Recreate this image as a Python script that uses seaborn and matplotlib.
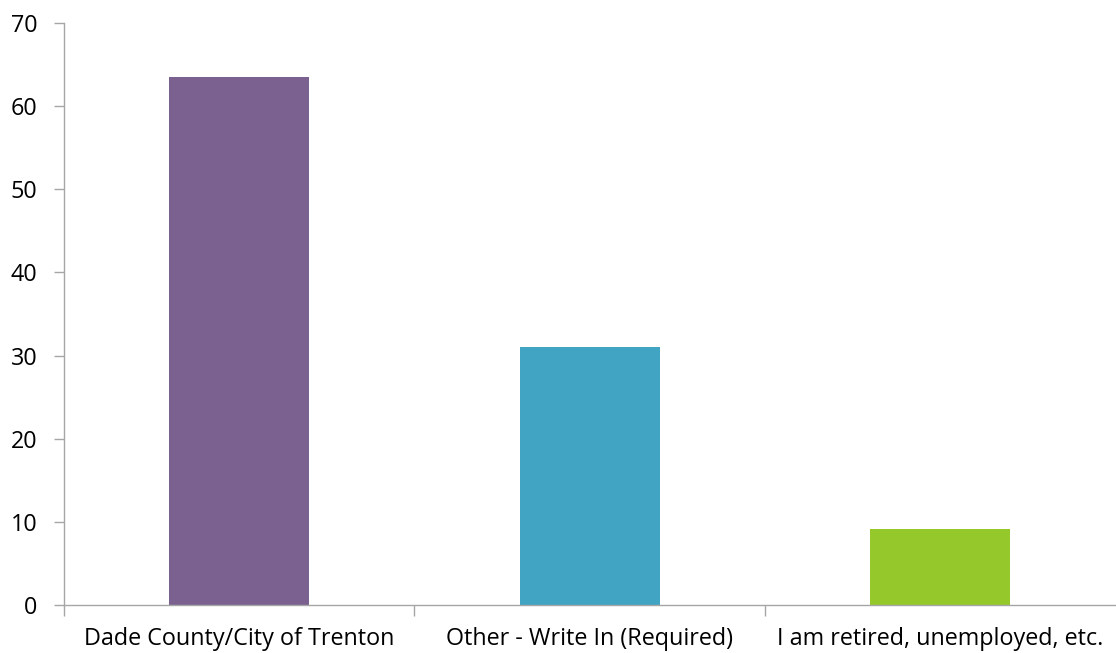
import matplotlib
matplotlib.use("Agg")
import matplotlib.pyplot as plt
import seaborn as sns
import pandas as pd
from matplotlib.ticker import FixedLocator

categories = ["Dade County/City of Trenton", "Other - Write In (Required)", "I am retired, unemployed, etc."]
values = [63.5, 31.0, 9.1]
colors = ["#7B6190", "#41A4C3", "#95C82B"]
yticks = [0, 10, 20, 30, 40, 50, 60, 70]

sns.set_theme(style="white")
plt.rcParams['font.family'] = ['Open Sans', 'DejaVu Sans']

df = pd.DataFrame({"cat": categories, "val": values})
fig = plt.figure(figsize=(11.16, 6.53), dpi=100)
ax = fig.add_axes([64/1116, 1-605/653, 1-64/1116 - 0.0005, (605-23)/653])
sns.barplot(data=df, x="cat", y="val", hue="cat", palette=colors, width=0.4,
            legend=False, ax=ax, saturation=1, linewidth=0)
ax.set_xlim(-0.5, 2.5)
ax.set_ylim(0, 70)
ax.set_yticks(yticks)
ax.set_xlabel("")
ax.set_ylabel("")
for s in ["top", "right"]:
    ax.spines[s].set_visible(False)
for s in ["left", "bottom"]:
    ax.spines[s].set_color("#A6A6A6")
    ax.spines[s].set_linewidth(1.0)
ax.tick_params(axis="y", which="major", length=7, color="#A6A6A6", width=1, labelsize=16.8, pad=12, left=True, labelcolor="black")
ax.tick_params(axis="x", which="major", length=0, labelsize=16.8, pad=16, labelcolor="black")
ax.xaxis.set_minor_locator(FixedLocator([-0.5, 0.5, 1.5]))
ax.tick_params(axis="x", which="minor", length=8, color="#A6A6A6", width=1, bottom=True)
fig.savefig("out.png", dpi=100)
